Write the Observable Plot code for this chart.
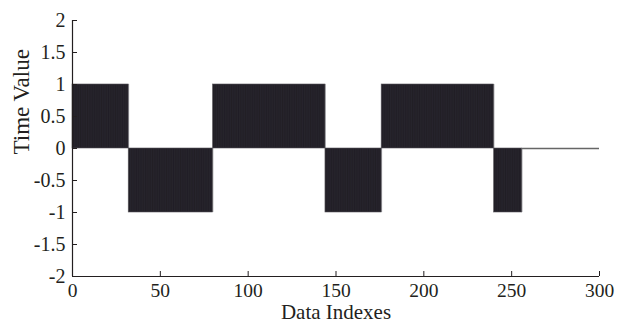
<!DOCTYPE html>
<html>
<head>
<meta charset="utf-8">
<script src="https://cdn.jsdelivr.net/npm/d3@7"></script>
<script src="https://cdn.jsdelivr.net/npm/@observablehq/plot@0.6"></script>
<style>
  html, body { margin: 0; padding: 0; background: #fff; }
  svg { display: block; }
</style>
</head>
<body>
<div id="chart"></div>
<script>
// Runs of constant value (index ranges)
const segStart = [0, 32, 80, 144, 176, 240, 256];
const segEnd   = [32, 80, 144, 176, 240, 256, 300];
const segValue = [1, -1, 1, -1, 1, -1, 0];
const xTicks = [0, 50, 100, 150, 200, 250, 300];
const yTicks = [-2, -1.5, -1, -0.5, 0, 0.5, 1, 1.5, 2];

const segs = segStart.map((s, i) => ({start: s, end: segEnd[i], value: segValue[i]}));
// one stem per data index inside the nonzero runs (gives the faint striping)
const stems = segs.filter(d => d.value !== 0)
  .flatMap(d => d3.range(d.start + 1, d.end + 1).map(i => ({i, value: d.value})));
const fmtY = d => (d < 0 ? "-" + Math.abs(d) : String(d));
const ink = "#231f20";
const font = "'Liberation Serif', serif";

const plot = Plot.plot({
  width: 617,
  height: 326,
  marginLeft: 72,
  marginRight: 18,
  marginTop: 20,
  marginBottom: 50,
  style: {fontFamily: font, color: ink, background: "#fff"},
  x: {domain: [0, 300]},
  y: {domain: [-2, 2]},
  marks: [
    Plot.rectY(segs.filter(d => d.value !== 0), {x1: "start", x2: "end", y1: 0, y2: "value", fill: "#221f26", stroke: "#5a585e", strokeWidth: 0.6}),
    Plot.ruleX(stems, {x: "i", y1: 0, y2: "value", stroke: "#34313e", strokeWidth: 0.5, strokeOpacity: 0.6}),
    Plot.ruleY(segs.filter(d => d.value === 0), {x1: "start", x2: "end", y: "value", stroke: "#666", strokeWidth: 1.6}),
    // inward ticks (labels drawn as text marks below)
    Plot.axisY(yTicks, {tickSize: -5, tickFormat: () => "", label: null, stroke: ink}),
    Plot.axisX(xTicks, {tickSize: -5, tickFormat: () => "", label: null, stroke: ink}),
    Plot.ruleX([0], {stroke: ink, strokeWidth: 1.2}),
    Plot.ruleY([-2], {stroke: ink, strokeWidth: 1.2}),
    Plot.text(yTicks, {y: d => d, text: fmtY, frameAnchor: "left", textAnchor: "end", dx: -7, fontSize: 20, fontFamily: font, fill: ink}),
    Plot.text(xTicks, {x: d => d, text: d => String(d), frameAnchor: "bottom", lineAnchor: "top", dy: 7, fontSize: 19.5, fontFamily: font, fill: ink}),
    Plot.text(["Data Indexes"], {frameAnchor: "bottom", dy: 42, fontSize: 21, fontFamily: font, fill: ink, text: d => d}),
    Plot.text(["Time Value"], {frameAnchor: "left", dx: -51, dy: 6, rotate: -90, fontSize: 23, fontFamily: font, fill: ink, text: d => d})
  ]
});
document.getElementById("chart").appendChild(plot);
</script>
</body>
</html>
